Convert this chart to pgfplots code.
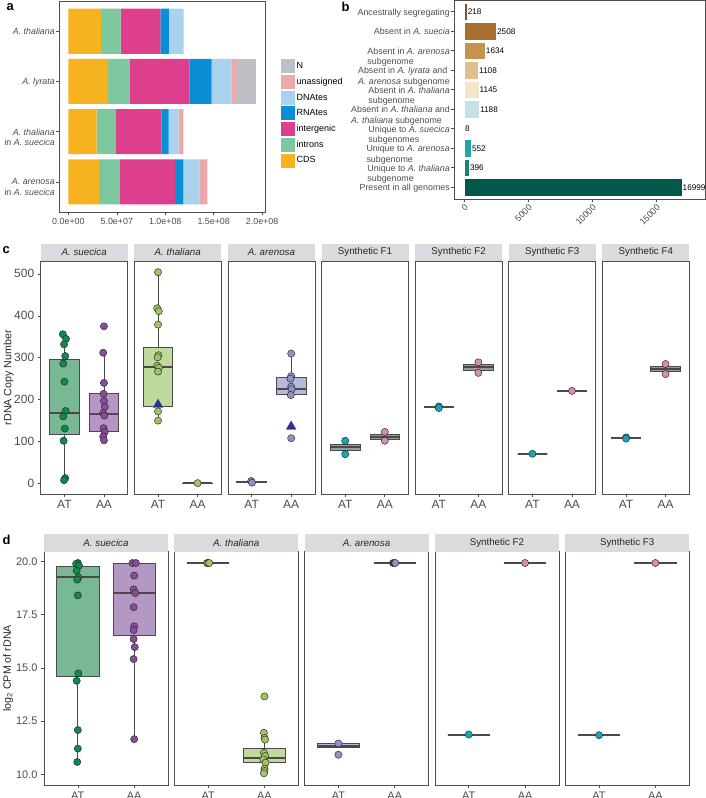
\documentclass[border=0pt]{standalone}
\usepackage{fontspec}
\setmainfont{Liberation Sans}
\setsansfont{Liberation Sans}
\usepackage{pgfplots}
\usepackage{pgfplotstable}
\pgfplotsset{compat=1.18}

\definecolor{txt}{HTML}{4D4D4D}
\definecolor{frame}{HTML}{4F4F4F}
\definecolor{strip}{HTML}{D9DBDF}
\definecolor{boxline}{HTML}{4A4A4A}
% panel a
\definecolor{cds}{HTML}{F7B21F}
\definecolor{intr}{HTML}{7DC89E}
\definecolor{interg}{HTML}{DD3F8C}
\definecolor{rnat}{HTML}{0A8ED6}
\definecolor{dnat}{HTML}{A8D2EE}
\definecolor{unas}{HTML}{EFA8A8}
\definecolor{ncol}{HTML}{BDBFC4}
% panel b
\definecolor{b1}{HTML}{7D5224}
\definecolor{b2}{HTML}{A6712F}
\definecolor{b3}{HTML}{C6934F}
\definecolor{b4}{HTML}{DEC28E}
\definecolor{b5}{HTML}{F4E4C9}
\definecolor{b6}{HTML}{C5E2E9}
\definecolor{b7}{HTML}{E8F5F5}
\definecolor{b8}{HTML}{1EA6A8}
\definecolor{b9}{HTML}{168578}
\definecolor{b10}{HTML}{00594B}
% panels c, d
\definecolor{sueAT}{HTML}{0C8A50}
\definecolor{sueATbox}{HTML}{78B893}
\definecolor{sueAA}{HTML}{8B4B9B}
\definecolor{sueAAbox}{HTML}{B597C3}
\definecolor{thal}{HTML}{9DC65E}
\definecolor{thalbox}{HTML}{BFDB9C}
\definecolor{aren}{HTML}{8E93C8}
\definecolor{arenbox}{HTML}{B6B9DC}
\definecolor{synAT}{HTML}{15A7B5}
\definecolor{synATbox}{HTML}{86A3A7}
\definecolor{synAA}{HTML}{D98BB2}
\definecolor{synAAbox}{HTML}{999999}
\definecolor{navy}{HTML}{2E3192}

\newcommand{\fs}[1]{\fontsize{#1}{#1}\selectfont}

% genome composition (bp)
\pgfplotstableread{
y   cds     introns intergenic rnat    dnat    unas    n
1   33.6e6  20.2e6  41.1e6     8.9e6   15.1e6  0       0
2   41.1e6  22.3e6  61.6e6     22.9e6  20.5e6  5.1e6   19.8e6
3   29.1e6  19.8e6  47.2e6     7.5e6   10.3e6  4.8e6   0
4   31.5e6  21.6e6  56.8e6     8.9e6   16.8e6  7.9e6   0
}\tabA

\pgfplotsset{
  gg/.style={scale only axis, anchor=north west, clip=false,
    axis line style={draw=frame, line width=0.7bp},
    tick align=outside, tick pos=left,
    major tick length=3bp, tick style={draw=txt, line width=0.6bp},
    ticklabel style={text=txt}, scaled ticks=false,
    /pgf/number format/assume math mode=true},
  facet/.style={gg, xmin=0.4, xmax=2.6, xtick={1,2}, xticklabels={AT,AA},
    every axis title/.style={at={(0.5,1)}, anchor=south, fill=strip,
      minimum width=#1, minimum height=17.5bp, inner sep=0pt,
      text=black!85, font=\fs{9.8}}},
  cfac/.style={facet=87bp, width=87bp, height=232.7bp, ymin=-25, ymax=530,
    ytick={0,100,...,500}, ticklabel style={font=\fs{12}},
    every axis y label/.style={at={(axis description cs:-0.37,0.5)},
      rotate=90, anchor=center, font=\fs{10.7}, text=black!85}},
  dfac/.style={facet=124bp, width=124bp, height=233.3bp, ymin=9.5, ymax=20.45,
    ytick={10,12.5,15,17.5,20}, yticklabels={10.0,12.5,15.0,17.5,20.0},
    ticklabel style={font=\fs{11}},
    every axis y label/.style={at={(axis description cs:-0.29,0.5)},
      rotate=90, anchor=center, font=\fs{10.7}, text=black!85}},
  pt/.style={only marks, mark=*, mark size=3.6bp,
    mark options={fill=#1, draw=black!85, line width=0.45bp}},
  tri/.style={only marks, mark=triangle*, mark size=5.5bp,
    mark options={fill=navy, draw=navy}},
  bb/.style={fill=#1, draw=white, line width=0.4bp},
  bline/.style={draw=boxline, line width=0.8bp},
}

% box: position, lower whisker, Q1, median, Q3, upper whisker, fill
\newcommand{\bx}[7]{%
  \pgfmathsetmacro\bxl{#1-0.375}\pgfmathsetmacro\bxr{#1+0.375}%
  \addplot[bline] coordinates {(#1,#2) (#1,#3)};
  \addplot[bline] coordinates {(#1,#5) (#1,#6)};
  \addplot[bline, fill=#7] coordinates {(\bxl,#3) (\bxr,#3) (\bxr,#5) (\bxl,#5)} -- cycle;
  \addplot[draw=boxline, line width=2bp] coordinates {(\bxl,#4) (\bxr,#4)};
}

\begin{document}
\begin{tikzpicture}
\path[use as bounding box] (0bp,0bp) rectangle (706bp,-798bp);

% ---------------- a ----------------
\begin{axis}[gg, at={(59bp,-1bp)}, width=206bp, height=211bp,
  xbar stacked, bar width=0.9,
  xmin=-9.7e6, xmax=2.03e8,
  xtick={0,5e7,1e8,1.5e8,2e8},
  xticklabels={0.0e+00,5.0e+07,1.0e+08,1.5e+08,2.0e+08},
  xticklabel style={font=\fs{8.9}},
  ymin=0.4, ymax=4.6, y dir=reverse, ytick={1,2,3,4},
  yticklabels={\textit{A. thaliana},\textit{A. lyrata},{\textit{A. thaliana}\\in \textit{A. suecica}},{\textit{A. arenosa}\\in \textit{A. suecica}}},
  yticklabel style={align=right, anchor=north east, yshift=4.2bp, inner sep=1bp,
    font=\fontsize{8.9}{10.8}\selectfont},
  legend image code/.code={\fill[#1] (0bp,-7bp) rectangle (14bp,7bp);},
  reverse legend,
  legend style={at={(1.075,0.467)}, anchor=west, draw=none, fill=none,
    font=\fs{9}, row sep=1.7bp, inner sep=0pt, cells={anchor=west}},
]
\addplot[fill=cds, draw=none] table[x=cds, y=y] {\tabA};
\addplot[fill=intr, draw=none] table[x=introns, y=y] {\tabA};
\addplot[fill=interg, draw=none] table[x=intergenic, y=y] {\tabA};
\addplot[fill=rnat, draw=none] table[x=rnat, y=y] {\tabA};
\addplot[fill=dnat, draw=none] table[x=dnat, y=y] {\tabA};
\addplot[fill=unas, draw=none] table[x=unas, y=y] {\tabA};
\addplot[fill=ncol, draw=none] table[x=n, y=y] {\tabA};
\legend{CDS,introns,intergenic,RNAtes,DNAtes,unassigned,N}
\end{axis}

% ---------------- b ----------------
\begin{axis}[gg, at={(454bp,0bp)}, width=251bp, height=199bp,
  xbar, bar width=0.9, bar shift=0pt,
  xmin=-800, xmax=18800, xtick={0,5000,10000,15000},
  xticklabels={0,5000,10000,15000},
  xticklabel style={rotate=45, anchor=north east, font=\fs{8.9}, inner sep=1bp},
  ymin=0.4, ymax=10.6, y dir=reverse, ytick={1,...,10},
  yticklabels={
    Ancestrally segregating,
    Absent in \textit{A. suecia},
    {Absent in \textit{A. arenosa}\\subgenome},
    {Absent in \textit{A. lyrata} and\\\textit{A. arenosa} subgenome},
    {Absent in \textit{A. thaliana}\\subgenome},
    {Absent in \textit{A. thaliana} and\\\textit{A. thaliana} subgenome},
    {Unique to \textit{A. suecica}\\subgenomes},
    {Unique to \textit{A. arenosa}\\subgenome},
    {Unique to \textit{A. thaliana}\\subgenome},
    Present in all genomes},
  yticklabel style={align=left, anchor=north east, yshift=4.2bp, inner sep=1bp,
    font=\fontsize{8.9}{10.8}\selectfont},
  nodes near coords, point meta=explicit symbolic,
  nodes near coords style={font=\fs{8.2}, text=black, inner sep=0.6bp, anchor=west},
]
\addplot[bb=b1] coordinates {(218,1) [218]};
\addplot[bb=b2] coordinates {(2508,2) [2508]};
\addplot[bb=b3] coordinates {(1634,3) [1634]};
\addplot[bb=b4] coordinates {(1108,4) [1108]};
\addplot[bb=b5] coordinates {(1145,5) [1145]};
\addplot[bb=b6] coordinates {(1188,6) [1188]};
\addplot[bb=b7] coordinates {(8,7) [8]};
\addplot[bb=b8] coordinates {(552,8) [552]};
\addplot[bb=b9] coordinates {(396,9) [396]};
\addplot[bb=b10] coordinates {(16999,10) [16999]};
\end{axis}

% ---------------- c ----------------
\begin{axis}[cfac, at={(40.7bp,-261.3bp)}, title={\textit{A. suecica}}, ylabel={rDNA Copy Number}]
\bx{1}{8}{117}{169}{296}{356}{sueATbox}
\bx{2}{103}{124}{165}{214}{312}{sueAAbox}
\addplot[pt=sueAT] coordinates {(0.96,356) (1.04,345) (0.99,332) (1.02,304) (0.97,286) (1.00,243)
  (1.03,173) (0.97,160) (1.01,131) (0.98,102) (1.02,13) (0.99,8)};
\addplot[pt=sueAA] coordinates {(2.00,375) (1.98,312) (2.00,240) (1.99,214) (2.00,197) (2.02,183)
  (1.98,168) (2.01,162) (1.99,132) (2.02,123) (1.98,112) (2.00,103)};
\end{axis}

\begin{axis}[cfac, at={(134.3bp,-261.3bp)}, title={\textit{A. thaliana}}, ytick=\empty]
\bx{1}{150}{184}{278}{324}{504}{thalbox}
\bx{2}{0}{0}{1}{1}{1}{thalbox}
\addplot[pt=thal] coordinates {(1.00,504) (0.98,418) (1.02,411) (1.00,379) (1.01,306) (0.99,301)
  (0.98,281) (1.02,276) (1.00,267) (1.00,172) (1.00,150)};
\addplot[tri] coordinates {(1,188)};
\addplot[pt=thal] coordinates {(2.00,1)};
\end{axis}

\begin{axis}[cfac, at={(227.9bp,-261.3bp)}, title={\textit{A. arenosa}}, ytick=\empty]
\bx{1}{3}{3}{4}{5}{5}{arenbox}
\bx{2}{213}{213}{225}{253}{310}{arenbox}
\addplot[pt=aren] coordinates {(0.99,6) (1.01,2)};
\addplot[pt=aren] coordinates {(2.00,310) (2.00,256) (1.98,250) (2.00,231) (2.01,225) (1.99,211) (2.00,108)};
\addplot[tri] coordinates {(2,136)};
\end{axis}

\begin{axis}[cfac, at={(321.5bp,-261.3bp)}, title={Synthetic F1}, ytick=\empty]
\bx{1}{70}{78}{86}{94}{102}{synATbox}
\bx{2}{102}{106}{112}{118}{123}{synAAbox}
\addplot[pt=synAT] coordinates {(1,102) (1,70)};
\addplot[pt=synAA] coordinates {(2,123) (2,102)};
\end{axis}

\begin{axis}[cfac, at={(415.1bp,-261.3bp)}, title={Synthetic F2}, ytick=\empty]
\bx{1}{180}{181}{182}{183}{184}{synATbox}
\bx{2}{264}{270}{277}{284}{289}{synAAbox}
\addplot[pt=synAT] coordinates {(1,184) (1,180)};
\addplot[pt=synAA] coordinates {(2,289) (2,264)};
\end{axis}

\begin{axis}[cfac, at={(508.7bp,-261.3bp)}, title={Synthetic F3}, ytick=\empty]
\bx{1}{71}{71}{71}{71}{71}{synATbox}
\bx{2}{221}{221}{221}{221}{221}{synAAbox}
\addplot[pt=synAT] coordinates {(1,71)};
\addplot[pt=synAA] coordinates {(2,221)};
\end{axis}

\begin{axis}[cfac, at={(602.3bp,-261.3bp)}, title={Synthetic F4}, ytick=\empty]
\bx{1}{107}{107}{108}{109}{110}{synATbox}
\bx{2}{261}{267}{273}{280}{285}{synAAbox}
\addplot[pt=synAT] coordinates {(1,110) (1,107)};
\addplot[pt=synAA] coordinates {(2,285) (2,261)};
\end{axis}

% ---------------- d ----------------
\begin{axis}[dfac, at={(44bp,-551.7bp)}, title={\textit{A. suecica}}, ylabel={log\textsubscript{2} CPM of rDNA}]
\bx{1}{10.58}{14.59}{19.25}{19.78}{19.92}{sueATbox}
\bx{2}{11.65}{16.53}{18.51}{19.88}{19.92}{sueAAbox}
\addplot[pt=sueAT] coordinates {(1.00,19.92) (0.97,19.88) (1.02,19.80) (0.98,19.56) (1.01,19.25)
  (0.99,19.14) (1.00,18.40) (1.01,14.74) (0.98,14.39) (1.00,12.08) (1.00,11.21) (0.99,10.58)};
\addplot[pt=sueAA] coordinates {(1.97,19.92) (2.03,19.92) (2.00,19.33) (1.99,18.68) (2.02,18.51)
  (1.99,17.85) (2.00,16.95) (1.99,16.77) (1.99,16.35) (2.01,15.97) (1.99,15.41) (2.00,11.65)};
\end{axis}

\begin{axis}[dfac, at={(174.3bp,-551.7bp)}, title={\textit{A. thaliana}}, ytick=\empty]
\bx{1}{19.92}{19.92}{19.92}{19.92}{19.92}{thalbox}
\bx{2}{10.05}{10.58}{10.78}{11.20}{11.95}{thalbox}
\addplot[pt=thal] coordinates {(0.98,19.92) (1.00,19.92) (1.02,19.92)};
\addplot[pt=thal] coordinates {(2.00,13.66) (1.99,11.95) (2.00,11.71) (2.01,11.63) (1.99,11.01)
  (2.01,10.86) (1.98,10.70) (2.02,10.55) (2.00,10.27) (2.00,10.16) (1.99,10.05)};
\end{axis}

\begin{axis}[dfac, at={(304.6bp,-551.7bp)}, title={\textit{A. arenosa}}, ytick=\empty]
\bx{1}{11.26}{11.26}{11.34}{11.43}{11.43}{arenbox}
\bx{2}{19.92}{19.92}{19.92}{19.92}{19.92}{arenbox}
\addplot[pt=aren] coordinates {(1.00,11.45) (1.00,10.92)};
\addplot[pt=black!75] coordinates {(1.97,19.92)};
\addplot[pt=aren] coordinates {(2.01,19.92)};
\end{axis}

\begin{axis}[dfac, at={(434.9bp,-551.7bp)}, title={Synthetic F2}, ytick=\empty]
\bx{1}{11.87}{11.87}{11.87}{11.87}{11.87}{synATbox}
\bx{2}{19.92}{19.92}{19.92}{19.92}{19.92}{synAAbox}
\addplot[pt=synAT] coordinates {(1,11.87)};
\addplot[pt=synAA] coordinates {(2,19.92)};
\end{axis}

\begin{axis}[dfac, at={(565.2bp,-551.7bp)}, title={Synthetic F3}, ytick=\empty]
\bx{1}{11.84}{11.84}{11.84}{11.84}{11.84}{synATbox}
\bx{2}{19.92}{19.92}{19.92}{19.92}{19.92}{synAAbox}
\addplot[pt=synAT] coordinates {(1,11.84)};
\addplot[pt=synAA] coordinates {(2,19.92)};
\end{axis}

% panel letters
\node[anchor=west, font=\bfseries\fs{13}] at (3bp,-7bp) {a};
\node[anchor=west, font=\bfseries\fs{13}] at (338bp,-7bp) {b};
\node[anchor=west, font=\bfseries\fs{13}] at (-1bp,-250bp) {c};
\node[anchor=west, font=\bfseries\fs{13}] at (-1bp,-540bp) {d};
\end{tikzpicture}
\end{document}
